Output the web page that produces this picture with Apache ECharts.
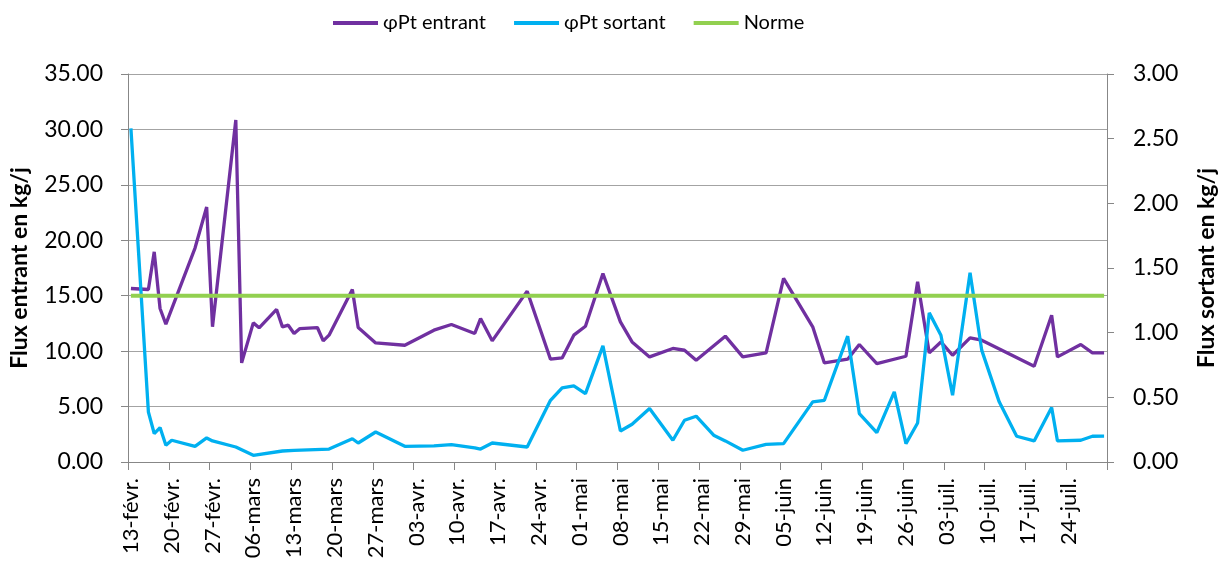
<!DOCTYPE html>
<html>
<head>
<meta charset="utf-8">
<script src="https://cdn.jsdelivr.net/npm/echarts@6/dist/echarts.min.js"></script>
<style>
  html, body { margin: 0; padding: 0; background: #fff; }
  #chartFlux { width: 1228px; height: 564px; }
</style>
</head>
<body>
<div id="chartFlux"></div>
<script>
const entrantDates = ['13/02','16/02','17/02','18/02','19/02','24/02','26/02','27/02','03/03','04/03',
  '06/03','07/03','10/03','11/03','12/03','13/03','14/03','17/03','18/03','19/03','23/03','24/03',
  '27/03','01/04','06/04','09/04','13/04','14/04','16/04','22/04','26/04','28/04','30/04','02/05',
  '05/05','08/05','10/05','13/05','17/05','19/05','21/05','26/05','29/05','02/06','05/06','10/06',
  '12/06','16/06','18/06','21/06','26/06','28/06','30/06','02/07','04/07','07/07','09/07','18/07',
  '21/07','22/07','26/07','28/07','30/07'];
const entrant = [15.65, 15.56, 18.96, 13.85, 12.43, 19.3, 23.0, 12.2, 30.85, 8.94,
  12.55, 12.1, 13.76, 12.19, 12.34, 11.59, 12.04, 12.13, 10.93, 11.44, 15.56, 12.13,
  10.74, 10.53, 11.89, 12.4, 11.59, 12.94, 10.93, 15.41, 9.27, 9.39, 11.44, 12.25,
  17.0, 12.64, 10.83, 9.48, 10.24, 10.08, 9.18, 11.35, 9.48, 9.84, 16.56, 12.19,
  8.94, 9.27, 10.6, 8.88, 9.54, 16.25, 9.84, 10.83, 9.63, 11.2, 10.99, 8.64,
  13.24, 9.48, 10.6, 9.84, 9.84];

const sortantDates = ['13/02','16/02','17/02','18/02','19/02','20/02','24/02','26/02','27/02','03/03',
  '06/03','11/03','13/03','19/03','23/03','24/03','27/03','01/04','06/04','09/04','13/04','14/04',
  '16/04','22/04','26/04','28/04','30/04','02/05','05/05','08/05','10/05','13/05','17/05','19/05',
  '21/05','24/05','26/05','29/05','02/06','05/06','10/06','12/06','16/06','18/06','21/06','24/06',
  '26/06','28/06','30/06','02/07','04/07','07/07','09/07','12/07','15/07','18/07','21/07','22/07',
  '26/07','28/07','30/07'];
const sortant = [2.58, 0.387, 0.22, 0.266, 0.129, 0.168, 0.121, 0.186, 0.163, 0.116,
  0.052, 0.085, 0.09, 0.10, 0.18, 0.147, 0.232, 0.121, 0.125, 0.135, 0.11, 0.10,
  0.147, 0.116, 0.477, 0.573, 0.588, 0.529, 0.898, 0.24, 0.292, 0.413, 0.168, 0.323,
  0.354, 0.207, 0.163, 0.091, 0.137, 0.142, 0.465, 0.477, 0.973, 0.374, 0.227, 0.542,
  0.142, 0.302, 1.153, 0.98, 0.516, 1.463, 0.865, 0.465, 0.199, 0.163, 0.421, 0.163,
  0.168, 0.199, 0.20];

const normeDates = ['13/02', '30/07'];
const norme = [15, 15];

const gaucheTicks = { min: 0, max: 35, interval: 5 };
const droiteTicks = { min: 0, max: 3, interval: 0.5 };

// axe des jours : un jour par catégorie, du 13 févr. au 30 juil.
const MOIS = ['janv.','févr.','mars','avr.','mai','juin','juil.','août','sept.','oct.','nov.','déc.'];
const debut = Date.UTC(2013, 1, 13);
const nbJours = 168;
const jours = [];
for (let i = 0; i < nbJours; i++) {
  const d = new Date(debut + i * 864e5);
  jours.push(String(d.getUTCDate()).padStart(2, '0') + '-' + MOIS[d.getUTCMonth()]);
}
function idx(s) {
  const p = s.split('/').map(Number);
  return Math.round((Date.UTC(2013, p[1] - 1, p[0]) - debut) / 864e5);
}
function paires(dates, vals) {
  return dates.map(function (d, i) { return [idx(d), vals[i]]; });
}

const police = 'Lato, "Open Sans", sans-serif';
const gris = '#878787';

const myChart = echarts.init(document.getElementById('chartFlux'));
myChart.setOption({
  animation: false,
  textStyle: { fontFamily: police },
  legend: {
    top: 8,
    left: 328,
    icon: 'rect',
    itemWidth: 45,
    itemHeight: 4,
    itemGap: 28,
    textStyle: { fontFamily: police, fontSize: 20, color: '#000' },
    data: ['φPt entrant', 'φPt sortant', 'Norme']
  },
  grid: { left: 128, right: 121, top: 74, bottom: 102 },
  xAxis: {
    type: 'category',
    data: jours,
    boundaryGap: true,
    axisLine: { lineStyle: { color: gris, width: 1 } },
    axisTick: { show: true, interval: 6, length: 8, lineStyle: { color: gris } },
    axisLabel: { interval: 6, rotate: 90, margin: 16, fontSize: 22, color: '#000', fontFamily: police },
    splitLine: { show: false }
  },
  yAxis: [
    {
      type: 'value',
      min: gaucheTicks.min, max: gaucheTicks.max, interval: gaucheTicks.interval,
      name: 'Flux entrant en kg/j',
      nameLocation: 'middle',
      nameRotate: 90,
      nameGap: 97,
      nameTextStyle: { fontFamily: police, fontSize: 23, fontWeight: 'bold', color: '#000' },
      axisLine: { show: true, lineStyle: { color: gris, width: 1 } },
      axisTick: { show: true, length: 7, lineStyle: { color: gris } },
      axisLabel: { margin: 25, fontSize: 23, color: '#000', fontFamily: police,
        formatter: function (v) { return v.toFixed(2); } },
      splitLine: { show: true, lineStyle: { color: '#a3a3a3', width: 1.2 } }
    },
    {
      type: 'value',
      position: 'right',
      min: droiteTicks.min, max: droiteTicks.max, interval: droiteTicks.interval,
      name: 'Flux sortant en kg/j',
      nameLocation: 'middle',
      nameRotate: 90,
      nameGap: 88,
      nameTextStyle: { fontFamily: police, fontSize: 23, fontWeight: 'bold', color: '#000' },
      axisLine: { show: true, lineStyle: { color: gris, width: 1 } },
      axisTick: { show: true, length: 7, lineStyle: { color: gris } },
      axisLabel: { margin: 26, fontSize: 23, color: '#000', fontFamily: police,
        formatter: function (v) { return v.toFixed(2); } },
      splitLine: { show: false }
    }
  ],
  series: [
    {
      name: 'φPt entrant',
      type: 'line',
      yAxisIndex: 0,
      symbol: 'none',
      color: '#7030A0',
      lineStyle: { color: '#7030A0', width: 3.3 },
      data: paires(entrantDates, entrant)
    },
    {
      name: 'φPt sortant',
      type: 'line',
      yAxisIndex: 1,
      symbol: 'none',
      color: '#00B0F0',
      lineStyle: { color: '#00B0F0', width: 3.3 },
      data: paires(sortantDates, sortant)
    },
    {
      name: 'Norme',
      type: 'line',
      yAxisIndex: 0,
      symbol: 'none',
      color: '#92D050',
      lineStyle: { color: '#92D050', width: 4 },
      data: paires(normeDates, norme)
    }
  ]
});
</script>
</body>
</html>
